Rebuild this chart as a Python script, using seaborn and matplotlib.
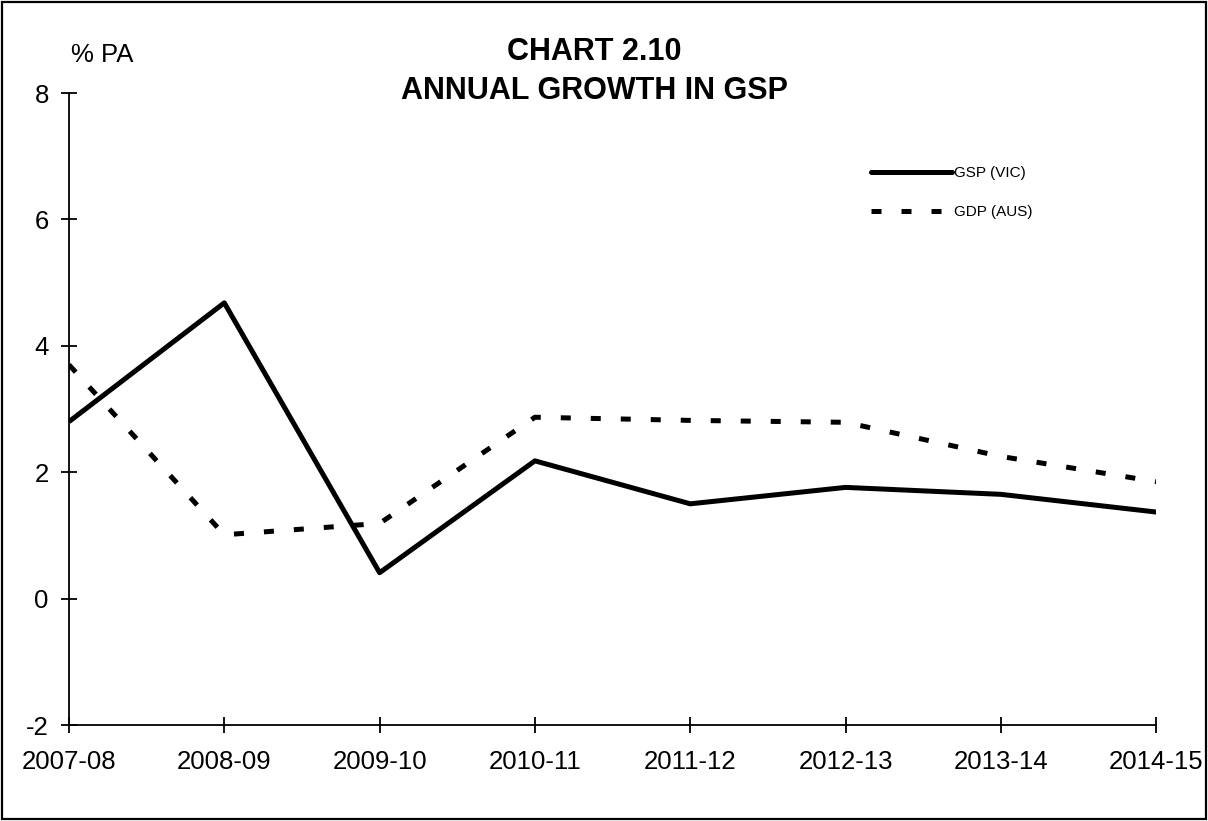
import matplotlib
matplotlib.use("Agg")
import matplotlib.pyplot as plt
import seaborn as sns
import pandas as pd
from matplotlib.lines import Line2D
from matplotlib.patches import Rectangle

years = ["2007-08", "2008-09", "2009-10", "2010-11",
         "2011-12", "2012-13", "2013-14", "2014-15"]
gsp_vic = [2.80, 4.68, 0.41, 2.18, 1.50, 1.76, 1.65, 1.37]
gdp_aus = [3.70, 1.01, 1.19, 2.87, 2.82, 2.79, 2.25, 1.85]
y_ticks = [-2, 0, 2, 4, 6, 8]

df = pd.DataFrame({
    "year": years * 2,
    "value": gsp_vic + gdp_aus,
    "series": ["GSP (VIC)"] * len(years) + ["GDP (AUS)"] * len(years),
})

sns.set_style("white")
plt.rcParams["font.family"] = ["Liberation Sans", "DejaVu Sans"]
plt.rcParams["axes.unicode_minus"] = False
plt.rcParams["text.color"] = "black"

fig = plt.figure(figsize=(12.08, 8.21), dpi=100)
ax = fig.add_axes([0.0571, 0.1169, 0.9000, 0.7698])

lw = 3.6
sns.lineplot(data=df[df.series == "GSP (VIC)"], x="year", y="value",
             color="black", lw=lw, ax=ax, legend=False)
sns.lineplot(data=df[df.series == "GDP (AUS)"], x="year", y="value",
             color="black", lw=lw, ax=ax, legend=False)
lines = ax.get_lines()
lines[0].set_solid_capstyle("butt")
lines[1].set_dashes((2, 4))
lines[1].set_dash_capstyle("butt")

ax.set_xlim(0, len(years) - 1)
ax.set_ylim(-2, 8)
ax.set_yticks(y_ticks)
ax.set_xticks(range(len(years)))
ax.set_xticklabels(years)
ax.set_xlabel("")
ax.set_ylabel("")

for s in ["top", "right"]:
    ax.spines[s].set_visible(False)
for s in ["left", "bottom"]:
    ax.spines[s].set_color("black")
    ax.spines[s].set_linewidth(1.3)

ax.tick_params(axis="both", which="major", bottom=True, left=True,
               direction="inout", length=12, width=1.3,
               color="black", labelsize=18.5, labelcolor="black")
ax.tick_params(axis="y", pad=8.5)
ax.tick_params(axis="x", pad=12)

fig.text(102 / 1208, 1 - 55 / 821, "% PA", fontsize=18.5,
         ha="center", va="center")
fig.text(594 / 1208, 1 - 52 / 821, "CHART 2.10", fontsize=22,
         fontweight="bold", ha="center", va="center")
fig.text(594 / 1208, 1 - 91 / 821, "ANNUAL GROWTH IN GSP", fontsize=22,
         fontweight="bold", ha="center", va="center")

handles = [
    Line2D([], [], color="black", lw=lw, solid_capstyle="round"),
    Line2D([], [], color="black", lw=lw, dashes=(2, 4),
           dash_capstyle="butt"),
]
ax.legend(handles, ["GSP (VIC)", "GDP (AUS)"], loc="upper left",
          bbox_to_anchor=(871 / 1208, 1 - 166 / 821),
          bbox_transform=fig.transFigure, frameon=False, fontsize=11,
          handlelength=5.3, handletextpad=0.1, labelspacing=1.65,
          borderpad=0, borderaxespad=0)

fig.patches.append(Rectangle((0.002, 0.002), 0.996, 0.996,
                             transform=fig.transFigure, fill=False,
                             edgecolor="black", lw=1.6))

fig.savefig("out.png", dpi=100)
